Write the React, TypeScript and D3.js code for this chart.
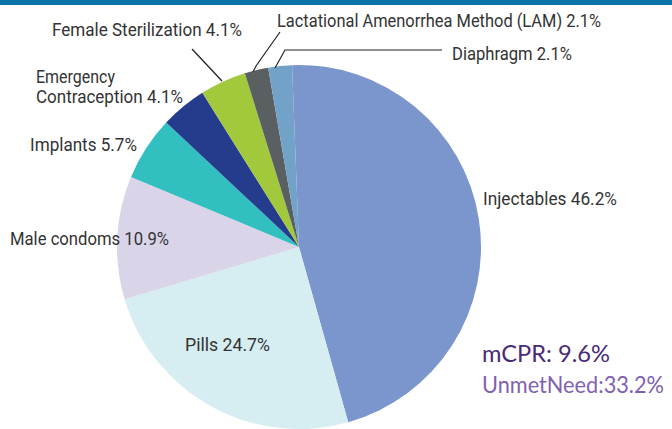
import React from "react";
import * as d3 from "d3";

const methods = [
  "Injectables",
  "Pills",
  "Male condoms",
  "Implants",
  "Emergency Contraception",
  "Female Sterilization",
  "Lactational Amenorrhea Method (LAM)",
  "Diaphragm",
];
const shares = [46.2, 24.7, 10.9, 5.7, 4.1, 4.1, 2.1, 2.1];
const colours = ["#7b96cc", "#d6edf1", "#d9d4e8", "#31bfbf", "#253c8c", "#a2c83c", "#5a5f62", "#72a2c8"];
const mcpr = 9.6;
const unmetNeed = 33.2;

const W = 672;
const H = 429;
const cx = 299;
const cy = 247;
const radius = 182;
// no condensed font installed: squeeze Roboto into the measured widths
const labelFont = "Roboto, sans-serif";

function Label(props: { x: number; y: number; w: number; children: string }) {
  return (
    <text x={props.x} y={props.y} textLength={props.w} lengthAdjust="spacingAndGlyphs">
      {props.children}
    </text>
  );
}

export default function App() {
  const pie = d3
    .pie<number>()
    .sort(null)
    .startAngle(-0.038)
    .endAngle(-0.038 + 2 * Math.PI)(shares);
  const arc = d3.arc<d3.PieArcDatum<number>>().innerRadius(0).outerRadius(radius);

  const lbl = (i: number) => `${methods[i]} ${shares[i]}%`;

  return (
    <svg width={W} height={H} style={{ position: "absolute", left: 0, top: 0, background: "#fff" }}>
      <rect x={0} y={0} width={W} height={5} fill="#0b72a8" />
      <g transform={`translate(${cx},${cy})`}>
        {pie.map((d, i) => (
          <path key={i} d={arc(d) || ""} fill={colours[i]} />
        ))}
      </g>
      <g fill="none" stroke="#222" strokeWidth={1.2}>
        <line x1={192} y1={49} x2={222} y2={81} />
        <polyline points="280,32 256,66 253,72" />
        <polyline points="442,50 285,50 275,68" />
      </g>
      <g fontFamily={labelFont} fontSize={18.5} fill="#333">
        <Label x={483} y={205} w={134}>{lbl(0)}</Label>
        <Label x={185} y={351} w={85}>{lbl(1)}</Label>
        <Label x={10} y={245} w={159}>{lbl(2)}</Label>
        <Label x={30} y={151} w={107}>{lbl(3)}</Label>
        <Label x={36} y={83} w={79}>Emergency</Label>
        <Label x={36} y={103} w={147}>{`Contraception ${shares[4]}%`}</Label>
        <Label x={52} y={36} w={190}>{lbl(5)}</Label>
        <Label x={277} y={27} w={324}>{lbl(6)}</Label>
        <Label x={452} y={60} w={120}>{lbl(7)}</Label>
      </g>
      <g fontFamily="Lato, sans-serif" fontSize={22.5}>
        <text x={482} y={362} fill="#4b2a78" textLength={128} lengthAdjust="spacingAndGlyphs">{`mCPR: ${mcpr}%`}</text>
        <text x={482} y={393} fill="#7f62b0" textLength={182} lengthAdjust="spacingAndGlyphs">{`UnmetNeed:${unmetNeed}%`}</text>
      </g>
    </svg>
  );
}
